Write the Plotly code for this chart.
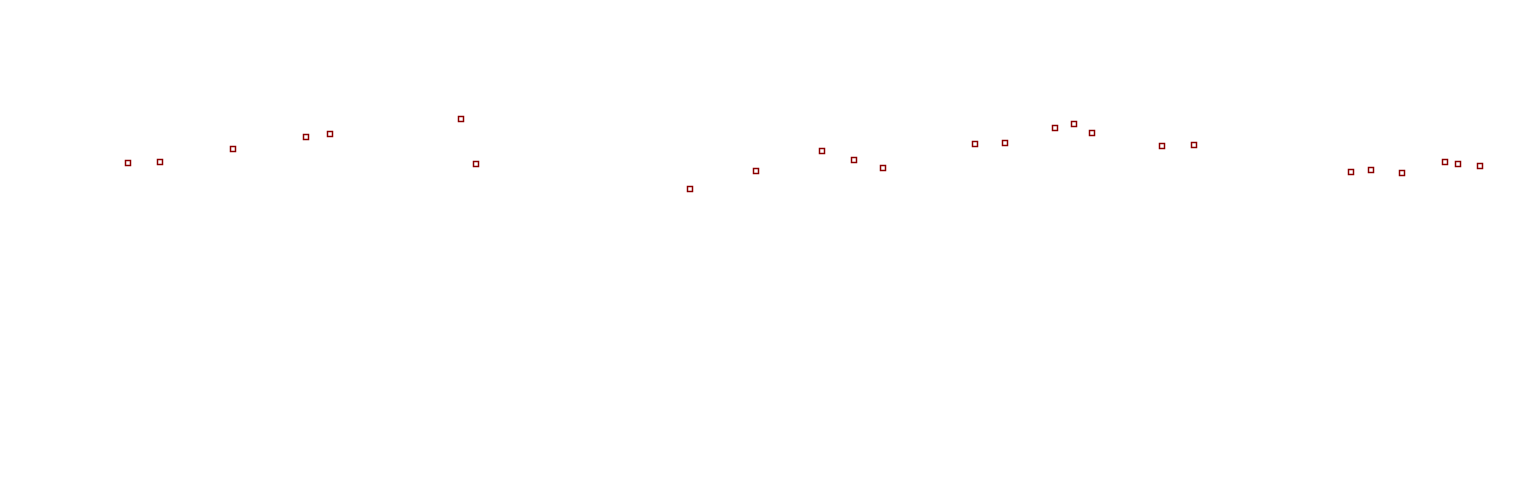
import plotly.graph_objects as go

# x positions (day index) and values
days = [128, 160, 233, 306, 330, 461, 476, 690, 756, 822, 854, 883,
        975, 1005, 1055, 1074, 1092, 1162, 1194, 1351, 1371, 1402, 1445, 1458, 1480]
values = [33.7, 33.8, 35.1, 36.3, 36.6, 38.1, 33.6, 31.1, 32.9, 34.9, 34.0, 33.2,
          35.6, 35.7, 37.2, 37.6, 36.7, 35.4, 35.5, 32.8, 33.0, 32.7, 33.8, 33.6, 33.4]

fig = go.Figure(go.Scatter(
    x=days, y=values, mode="markers",
    marker=dict(symbol="square", size=5, color="white",
                line=dict(color="#8b0000", width=1.5)),
    hoverinfo="x+y",
))
fig.update_layout(
    width=1528, height=500,
    margin=dict(l=0, r=0, t=0, b=0),
    paper_bgcolor="white", plot_bgcolor="white",
    showlegend=False,
    xaxis=dict(range=[8, 1536], visible=False),
    yaxis=dict(range=[-0.8, 49.2], visible=False),
)
fig.write_html("out.html")
